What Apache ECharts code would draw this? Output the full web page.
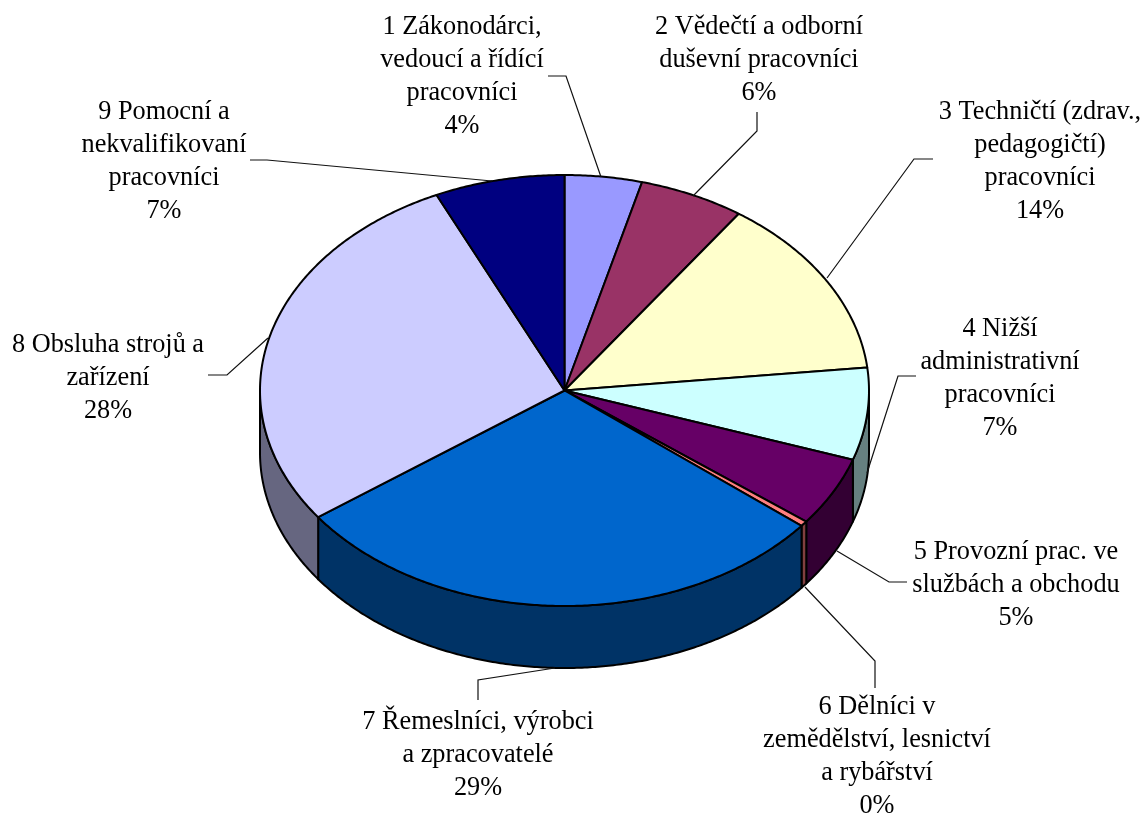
<!DOCTYPE html>
<html>
<head>
<meta charset="utf-8">
<style>
  html, body { margin: 0; padding: 0; background: #fff; }
  #chart { width: 1147px; height: 814px; }
</style>
</head>
<body>
<div id="chart"></div>
<script src="https://cdn.jsdelivr.net/npm/echarts@6/dist/echarts.min.js"></script>
<script>
// data
var names = [
  '1 Zákonodárci,\nvedoucí a řídící\npracovníci',
  '2 Vědečtí a odborní\nduševní pracovníci',
  '3 Techničtí (zdrav.,\npedagogičtí)\npracovníci',
  '4 Nižší\nadministrativní\npracovníci',
  '5 Provozní prac. ve\nslužbách a obchodu',
  '6 Dělníci v\nzemědělství, lesnictví\na rybářství',
  '7 Řemeslníci, výrobci\na zpracovatelé',
  '8 Obsluha strojů a\nzařízení',
  '9 Pomocní a\nnekvalifikovaní\npracovníci'
]
var values = [4.1, 5.6, 13.6, 6.9, 5.2, 0.4, 29.2, 28.1, 6.9]
var topColors = ['#9999ff', '#993366', '#ffffcc', '#ccffff', '#660066', '#ff8080', '#0066cc', '#ccccff', '#000080']
var wallColors = ['#4c4c80', '#4c1933', '#808066', '#668080', '#330033', '#804040', '#003366', '#666680', '#000040']

// layout of the pie
var cx = 564.5, cy = 390.5, rx = 304.5, ry = 215.5, depth = 62
// label centre x and y of the first line
var labelPos = [[462, 27], [759, 27], [1040, 112], [1000, 329], [1016, 552], [877, 707], [478, 722], [108, 345], [164, 112]]
// leader lines
var leaders = [
  [[548, 76], [566, 76], [601, 177]],
  [[757, 112], [757, 131], [693, 196]],
  [[933, 159], [914, 159], [827, 278]],
  [[916, 376], [898, 376], [867, 473]],
  [[907, 582], [889, 582], [837, 551]],
  [[875, 688], [875, 661], [805, 587]],
  [[555, 668], [478, 680], [478, 700]],
  [[208, 375], [227, 375], [268, 338]],
  [[250, 160], [267, 160], [492, 181]]
]

var total = values.reduce(function (a, b) { return a + b }, 0)

function startAngle (i) {
  var sum = 0
  for (var k = 0; k < i; k++) sum += values[k]
  return sum / total * 360
}

function pt (deg, dy) {
  var a = deg * Math.PI / 180
  return [cx + rx * Math.sin(a), cy - ry * Math.cos(a) + (dy || 0)]
}

function arc (from, to, dy) {
  var pts = []
  var n = Math.max(2, Math.ceil((to - from) * 2))
  for (var i = 0; i <= n; i++) pts.push(pt(from + (to - from) * i / n, dy))
  return pts
}

// only the front half of the side is visible
function renderWall (params, api) {
  var start = startAngle(params.dataIndex)
  var from = Math.max(start, 90)
  var to = Math.min(start + api.value(0) / total * 360, 270)
  if (to <= from) return null
  return {
    type: 'polygon',
    shape: { points: arc(from, to, 0).concat(arc(from, to, depth).reverse()) },
    style: { fill: wallColors[params.dataIndex], stroke: '#000', lineWidth: 2, lineJoin: 'round' }
  }
}

function renderTop (params, api) {
  var from = startAngle(params.dataIndex)
  var to = from + api.value(0) / total * 360
  return {
    type: 'polygon',
    shape: { points: [[cx, cy]].concat(arc(from, to, 0)) },
    style: { fill: topColors[params.dataIndex], stroke: '#000', lineWidth: 2, lineJoin: 'round' }
  }
}

function renderLabel (params, api) {
  var i = params.dataIndex
  return {
    type: 'group',
    children: [{
      type: 'polyline',
      shape: { points: leaders[i] },
      style: { fill: null, stroke: '#111', lineWidth: 1.2 }
    }, {
      type: 'text',
      style: {
        x: labelPos[i][0],
        y: labelPos[i][1] - 16,
        text: names[i] + '\n' + Math.round(api.value(0)) + '%',
        fill: '#000',
        font: '26.3px "Liberation Serif"',
        lineHeight: 33,
        align: 'center',
        verticalAlign: 'top'
      }
    }]
  }
}

var chart = echarts.init(document.getElementById('chart'))
chart.setOption({
  backgroundColor: '#fff',
  animation: false,
  tooltip: { show: false },
  series: [
    { type: 'custom', coordinateSystem: 'none', silent: true, z: 1, data: values, renderItem: renderWall },
    { type: 'custom', coordinateSystem: 'none', silent: true, z: 2, data: values, renderItem: renderTop },
    { type: 'custom', coordinateSystem: 'none', silent: true, z: 3, data: values, renderItem: renderLabel }
  ]
})
</script>
</body>
</html>
